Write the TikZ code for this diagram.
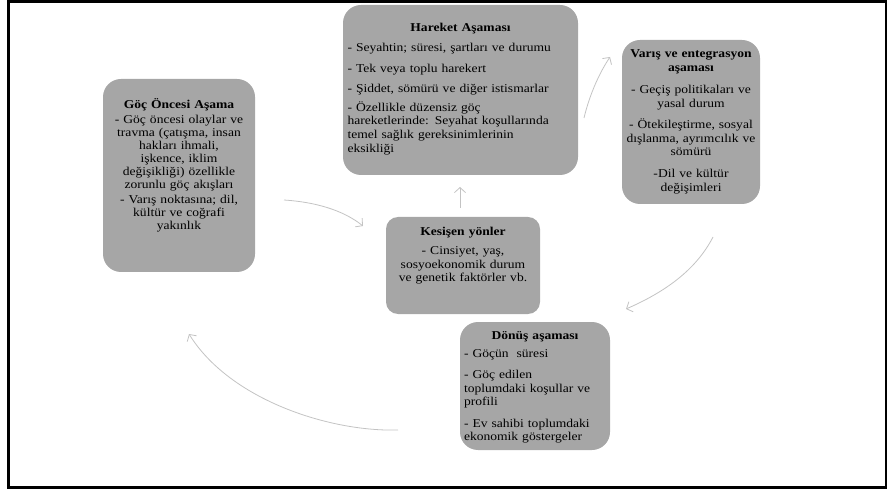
\documentclass[tikz,border=0pt]{standalone}
\usepackage{fontspec}
\setmainfont{Liberation Serif}[FakeStretch=1.13]
\usetikzlibrary{positioning,arrows.meta}
\definecolor{boxgray}{RGB}{166,166,166}
\definecolor{arrowgray}{RGB}{195,195,195}
\tikzset{>={Straight Barb[length=5pt,width=11pt]}}
\tikzset{
  stage/.style={fill=boxgray, rounded corners=18pt, inner sep=0pt},
  stagetext/.style={inner sep=0pt, font=\fontsize{12}{13.6}\selectfont},
  flow/.style={->, draw=arrowgray, line width=0.8pt}
}

\begin{document}
\begin{tikzpicture}[x=1pt,y=-1pt]
\useasboundingbox (0,0) rectangle (894,494);
\draw[line width=2.5pt] (8.5,1.5) rectangle (886,487.5);

% boxes
\node[stage, minimum width=152pt, minimum height=193pt] (goc) at (179,175.5) {};
\node[stage, minimum width=235pt, minimum height=170pt] (hareket) at (460.5,90) {};
\node[stage, minimum width=138pt, minimum height=164pt] (varis) at (691,122) {};
\node[stage, rounded corners=12pt, minimum width=154pt, minimum height=97pt] (kesisen) at (463,265.5) {};
\node[stage, minimum width=150pt, minimum height=128pt] (donus) at (535,386) {};

% texts
\node[stagetext, font=\fontsize{12}{13}\selectfont, text width=150pt, align=center, below=20pt of goc.north] (goctext)
  {\textbf{Göç Öncesi Aşama}\\[2pt]
   - Göç öncesi olaylar ve\\ travma (çatışma, insan\\ hakları ihmali,\\ işkence, iklim\\
   değişikliği) özellikle\\ zorunlu göç akışları\\[2pt]
   - Varış noktasına; dil,\\ kültür ve coğrafi\\ yakınlık};
\node[stagetext, text width=226pt, align=left, below=18.5pt of hareket.north] (harekettext)
  {{\centering\textbf{Hareket Aşaması}\par}\vspace{6.5pt}
   - Seyahtin; süresi, şartları ve durumu\\[6.5pt]
   - Tek veya toplu harekert\\[6.5pt]
   - Şiddet, sömürü ve diğer istismarlar\\[5.5pt]
   - Özellikle düzensiz göç\\ hareketlerinde: Seyahat koşullarında\\
   temel sağlık gereksinimlerinin\\ eksikliği};
\node[stagetext, text width=148pt, align=center, below=10pt of varis.north] (varistext)
  {\textbf{Varış ve entegrasyon}\\ \textbf{aşaması}\\[8.5pt]
   - Geçiş politikaları ve\\ yasal durum\\[8pt]
   - Ötekileştirme, sosyal\\ dışlanma, ayrımcılık ve\\ sömürü\\[8pt]
   -Dil ve kültür\\ değişimleri};
\node[stagetext, text width=150pt, align=center, below=10pt of kesisen.north] (kesisentext)
  {\textbf{Kesişen yönler}\\[5.5pt]
   - Cinsiyet, yaş,\\ sosyoekonomik durum\\ ve genetik faktörler vb.};
\node[stagetext, text width=142pt, align=left, below=9.5pt of donus.north] (donustext)
  {{\centering\textbf{Dönüş aşaması}\par}\vspace{4.5pt}
   - Göçün\ \ süresi\\[7.5pt]
   - Göç edilen\\ toplumdaki koşullar ve\\ profili\\[7.5pt]
   - Ev sahibi toplumdaki\\ ekonomik göstergeler};

% connectors
\coordinate (gk1) at (284,200);
\coordinate (gk2) at (363,226);
\coordinate (kh1) at (460,208);
\coordinate (kh2) at (460,187);
\coordinate (hv1) at (584,118);
\coordinate (hv2) at (610,57);
\coordinate (vd1) at (713,237);
\coordinate (vd2) at (626,309);
\coordinate (dg1) at (398,430);
\coordinate (dg2) at (189,334);
\draw[flow] (gk1) .. controls (315,202) and (343,210) .. (gk2);
\draw[flow] (kh1) -- (kh2);
\draw[flow] (hv1) .. controls (589,97) and (598,75) .. (hv2);
\draw[flow] (vd1) .. controls (696,270) and (665,292) .. (vd2);
\draw[flow] (dg1) .. controls (330,432) and (230,400) .. (dg2);
\end{tikzpicture}
\end{document}
